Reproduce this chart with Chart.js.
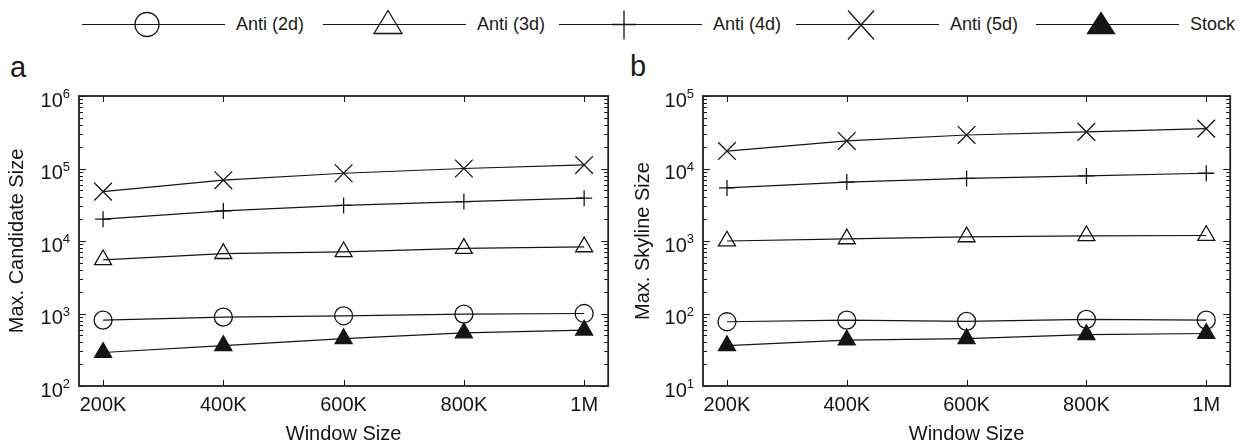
<!DOCTYPE html>
<html>
<head>
<meta charset="utf-8">
<script src="https://cdn.jsdelivr.net/npm/chart.js@4.4.1/dist/chart.umd.min.js"></script>
<style>
  html, body { margin: 0; padding: 0; background: #fff; }
  body { width: 1244px; height: 445px; position: relative; overflow: hidden;
         font-family: "Liberation Sans", Arial, sans-serif; color: #1a1a1a; }
  canvas { position: absolute; top: 0; }
  .legend-item { position: absolute; top: 4px; height: 40px; }
  .legend-text { position: absolute; top: 15px; font-size: 18px; line-height: 18px; white-space: nowrap; }
  .panel-label { position: absolute; font-size: 29px; line-height: 29px; }
</style>
</head>
<body>
<div id="legend"></div>
<div class="panel-label" style="left:10px; top:53px;">a</div>
<div class="panel-label" style="left:630px; top:52px;">b</div>
<canvas id="chartA" width="622" height="445" style="left:0px;"></canvas>
<canvas id="chartB" width="622" height="445" style="left:622px;"></canvas>
<script>
// Window sizes on the x axis and their tick labels
const windowSizes = [200000, 400000, 600000, 800000, 1000000];
const windowLabels = ['200K', '400K', '600K', '800K', '1M'];

// Series names
const seriesNames = ['Anti (2d)', 'Anti (3d)', 'Anti (4d)', 'Anti (5d)', 'Stock'];

// (a) Max. candidate size
const candAnti2d = [810, 890, 930, 980, 1000];
const candAnti3d = [5500, 6700, 7100, 7900, 8300];
const candAnti4d = [20000, 26000, 31000, 35000, 39000];
const candAnti5d = [48000, 69000, 86000, 100000, 112000];
const candStock  = [290, 360, 450, 540, 590];

// (b) Max. skyline size
const skyAnti2d = [77, 81, 78, 83, 81];
const skyAnti3d = [1000, 1070, 1140, 1180, 1190];
const skyAnti4d = [5400, 6500, 7300, 7900, 8600];
const skyAnti5d = [17400, 24000, 29000, 32000, 35500];
const skyStock  = [36, 43, 45, 51, 53];

const INK = '#151515';
const FONT = '"Liberation Sans", Arial, sans-serif';

// marker style for each series
const markerStyles = [
  { pointStyle: 'circle',   radius: 9,    fill: 'rgba(0,0,0,0)' },
  { pointStyle: 'triangle', radius: 9.8,  fill: 'rgba(0,0,0,0)' },
  { pointStyle: 'cross',    radius: 8,    fill: 'rgba(0,0,0,0)' },
  { pointStyle: 'crossRot', radius: 12.5, fill: 'rgba(0,0,0,0)' },
  { pointStyle: 'triangle', radius: 9.8,  fill: INK }
];

function buildDatasets(seriesValues) {
  return seriesValues.map((vals, i) => ({
    label: seriesNames[i],
    data: windowSizes.map((x, j) => ({ x: x, y: vals[j] })),
    borderColor: INK,
    borderWidth: 1.2,
    tension: 0,
    pointStyle: markerStyles[i].pointStyle,
    pointRadius: markerStyles[i].radius,
    pointBorderWidth: 1.3,
    pointBorderColor: INK,
    pointBackgroundColor: markerStyles[i].fill,
    fill: false
  }));
}

// Frame, inward ticks and superscript log labels
const framePlugin = {
  id: 'frame',
  afterDatasetsDraw(chart, args, opts) {
    const { ctx, chartArea: a } = chart;
    const xs = chart.scales.x, ys = chart.scales.y;
    ctx.save();
    ctx.strokeStyle = INK;
    ctx.lineWidth = 1;
    ctx.beginPath();
    windowSizes.forEach(v => {
      const px = Math.round(xs.getPixelForValue(v)) + 0.5;
      ctx.moveTo(px, a.top); ctx.lineTo(px, a.top + 6);
      ctx.moveTo(px, a.bottom); ctx.lineTo(px, a.bottom - 6);
    });
    for (let e = opts.minExp; e <= opts.maxExp; e++) {
      for (let m = 1; m <= 9; m++) {
        const val = m * Math.pow(10, e);
        if (val > Math.pow(10, opts.maxExp) * 1.0001) break;
        const py = Math.round(ys.getPixelForValue(val)) + 0.5;
        const len = m === 1 ? 7 : 4;
        ctx.moveTo(a.left, py); ctx.lineTo(a.left + len, py);
        ctx.moveTo(a.right, py); ctx.lineTo(a.right - len, py);
      }
    }
    ctx.stroke();

    ctx.lineWidth = 1.8;
    ctx.strokeStyle = '#222';
    ctx.strokeRect(a.left, a.top, a.right - a.left, a.bottom - a.top);

    ctx.fillStyle = INK;
    for (let e = opts.minExp; e <= opts.maxExp; e++) {
      const py = ys.getPixelForValue(Math.pow(10, e));
      ctx.font = '13px ' + FONT;
      const expText = String(e);
      const ew = ctx.measureText(expText).width;
      const right = a.left - 9;
      ctx.textAlign = 'left';
      ctx.textBaseline = 'alphabetic';
      ctx.fillText(expText, right - ew, py + 2);
      ctx.font = '20px ' + FONT;
      ctx.textAlign = 'right';
      ctx.fillText('10', right - ew, py + 10.5);
    }
    ctx.restore();
  }
};

function makeChart(canvasId, seriesValues, minExp, maxExp, yTitle, yTitlePad, padRight) {
  return new Chart(document.getElementById(canvasId), {
    type: 'line',
    data: { datasets: buildDatasets(seriesValues) },
    plugins: [framePlugin],
    options: {
      responsive: false,
      animation: false,
      events: [],
      layout: { padding: { left: 0, right: padRight, top: 96, bottom: 0 } },
      plugins: {
        legend: { display: false },
        tooltip: { enabled: false },
        frame: { minExp: minExp, maxExp: maxExp }
      },
      scales: {
        x: {
          type: 'linear',
          min: 160000,
          max: 1040000,
          afterBuildTicks: s => { s.ticks = windowSizes.map(v => ({ value: v })); },
          afterFit: s => { s.height = 59; },
          ticks: {
            autoSkip: false,
            maxRotation: 0,
            padding: 7,
            color: INK,
            font: { family: FONT, size: 20 },
            callback: v => windowLabels[windowSizes.indexOf(v)]
          },
          grid: { drawOnChartArea: false, drawTicks: false },
          border: { display: false },
          title: {
            display: true,
            text: 'Window Size',
            color: INK,
            font: { family: FONT, size: 20, lineHeight: 1 },
            padding: { top: 0, bottom: 1 }
          }
        },
        y: {
          type: 'logarithmic',
          min: Math.pow(10, minExp),
          max: Math.pow(10, maxExp),
          afterFit: s => { s.width = 79 + (canvasId === 'chartB' ? 2 : 0); },
          ticks: { display: false },
          grid: { display: false },
          border: { display: false },
          title: {
            display: true,
            text: yTitle,
            color: INK,
            font: { family: FONT, size: 20, lineHeight: 1 },
            padding: { top: yTitlePad, bottom: 0 }
          }
        }
      }
    }
  });
}

makeChart('chartA', [candAnti2d, candAnti3d, candAnti4d, candAnti5d, candStock],
          2, 6, 'Max. Candidate Size', 7, 11);
makeChart('chartB', [skyAnti2d, skyAnti3d, skyAnti4d, skyAnti5d, skyStock],
          1, 5, 'Max. Skyline Size', 11, 9);

// Shared legend across the top: each entry is a line sample with its marker, then the name
const legendTextX = [236, 477, 713, 950, 1190];
const legendLineLen = 143;
const legendLineGap = 11;
const legendMarkerOffset = 65;
const svgNS = 'http://www.w3.org/2000/svg';
function legendMarker(i, cx, cy) {
  const g = document.createElementNS(svgNS, 'g');
  g.setAttribute('stroke', INK);
  g.setAttribute('stroke-width', '1.3');
  g.setAttribute('fill', 'none');
  let el;
  if (i === 0) {
    el = document.createElementNS(svgNS, 'circle');
    el.setAttribute('cx', cx); el.setAttribute('cy', cy); el.setAttribute('r', 12);
  } else if (i === 1) {
    el = document.createElementNS(svgNS, 'polygon');
    el.setAttribute('points', `${cx},${cy - 14} ${cx + 14},${cy + 9} ${cx - 14},${cy + 9}`);
  } else if (i === 4) {
    el = document.createElementNS(svgNS, 'polygon');
    el.setAttribute('points', `${cx},${cy - 12} ${cx + 13.5},${cy + 9} ${cx - 13.5},${cy + 9}`);
    el.setAttribute('fill', INK);
  } else {
    el = document.createElementNS(svgNS, 'path');
    if (i === 2) el.setAttribute('d', `M${cx},${cy - 14}V${cy + 15}M${cx - 12},${cy}H${cx + 12}`);
    else el.setAttribute('d', `M${cx - 13},${cy - 14}L${cx + 13},${cy + 15}M${cx + 13},${cy - 14}L${cx - 13},${cy + 15}`);
  }
  g.appendChild(el);
  return g;
}
const legend = document.getElementById('legend');
seriesNames.forEach((name, i) => {
  const tx = legendTextX[i];
  const lineStart = tx - legendLineGap - legendLineLen;
  const box = document.createElement('div');
  box.className = 'legend-item';
  box.style.left = lineStart + 'px';
  const svg = document.createElementNS(svgNS, 'svg');
  svg.setAttribute('width', legendLineLen);
  svg.setAttribute('height', 40);
  const ln = document.createElementNS(svgNS, 'line');
  ln.setAttribute('x1', 0); ln.setAttribute('x2', legendLineLen);
  ln.setAttribute('y1', 20.5); ln.setAttribute('y2', 20.5);
  ln.setAttribute('stroke', INK); ln.setAttribute('stroke-width', '1.2');
  svg.appendChild(ln);
  svg.appendChild(legendMarker(i, legendMarkerOffset, 20.5));
  box.appendChild(svg);
  legend.appendChild(box);
  const t = document.createElement('div');
  t.className = 'legend-text';
  t.style.left = tx + 'px';
  t.textContent = name;
  legend.appendChild(t);
});
</script>
</body>
</html>
